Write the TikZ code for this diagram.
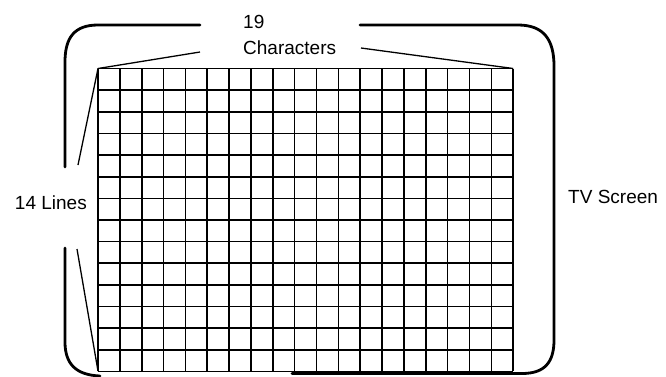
\documentclass[tikz,border=0pt]{standalone}
\usepackage{fontspec}
\setmainfont{Liberation Sans}
\tikzset{
  txt/.style={font=\fontsize{19}{22}\selectfont,inner sep=0pt},
  gridline/.style={line width=1.6pt},
  frame/.style={line width=2.8pt,line cap=round},
  thin/.style={line width=1.3pt}
}
\begin{document}
\begin{tikzpicture}[x=1pt,y=-1pt,line join=round]
    \useasboundingbox (0,0) rectangle (666,376);
    % character grid
    \foreach \i in {0,...,19}
        \draw[gridline] ({98+\i*21.85},68.5) -- ({98+\i*21.85},371);
    \foreach \j in {0,...,14}
        \draw[gridline] (98,{68.5+\j*21.64}) -- (513.2,{68.5+\j*21.64});
    \coordinate (TL) at (98,68.5);
    \coordinate (TR) at (513.2,68.5);
    \coordinate (BL) at (98,371);
    % texts
    \node[txt,anchor=west] (nchar) at (243,21.5) {19};
    \node[txt,anchor=west] (chars) at (243,48) {Characters};
    \node[txt,anchor=east] (lines) at (87,203) {14 Lines};
    \node[txt,anchor=west] (tv) at (568,197) {TV Screen};
    % screen frame
    \draw[frame] (200,25) -- (98,25) .. controls (74,25) and (65,38) .. (65,62) -- (65,167);
    \draw[frame] (65,248) -- (65,342) .. controls (65,364) and (76,375) .. (100,376);
    \draw[frame] (292,373.5) -- (522,373.5) .. controls (545,373.5) and (554,362) .. (554,340)
        -- (554,66) .. controls (554,40) and (544,25) .. (518,25) -- (360,25);
    % brackets
    \coordinate (cl) at (200,52);
    \coordinate (cr) at (361,48);
    \coordinate (lt) at (78,165);
    \coordinate (lb) at (77,249);
    \draw[thin] (lt) -- (TL) -- (cl);
    \draw[thin] (cr) -- (TR);
    \draw[thin] (lb) -- (BL);
\end{tikzpicture}
\end{document}
